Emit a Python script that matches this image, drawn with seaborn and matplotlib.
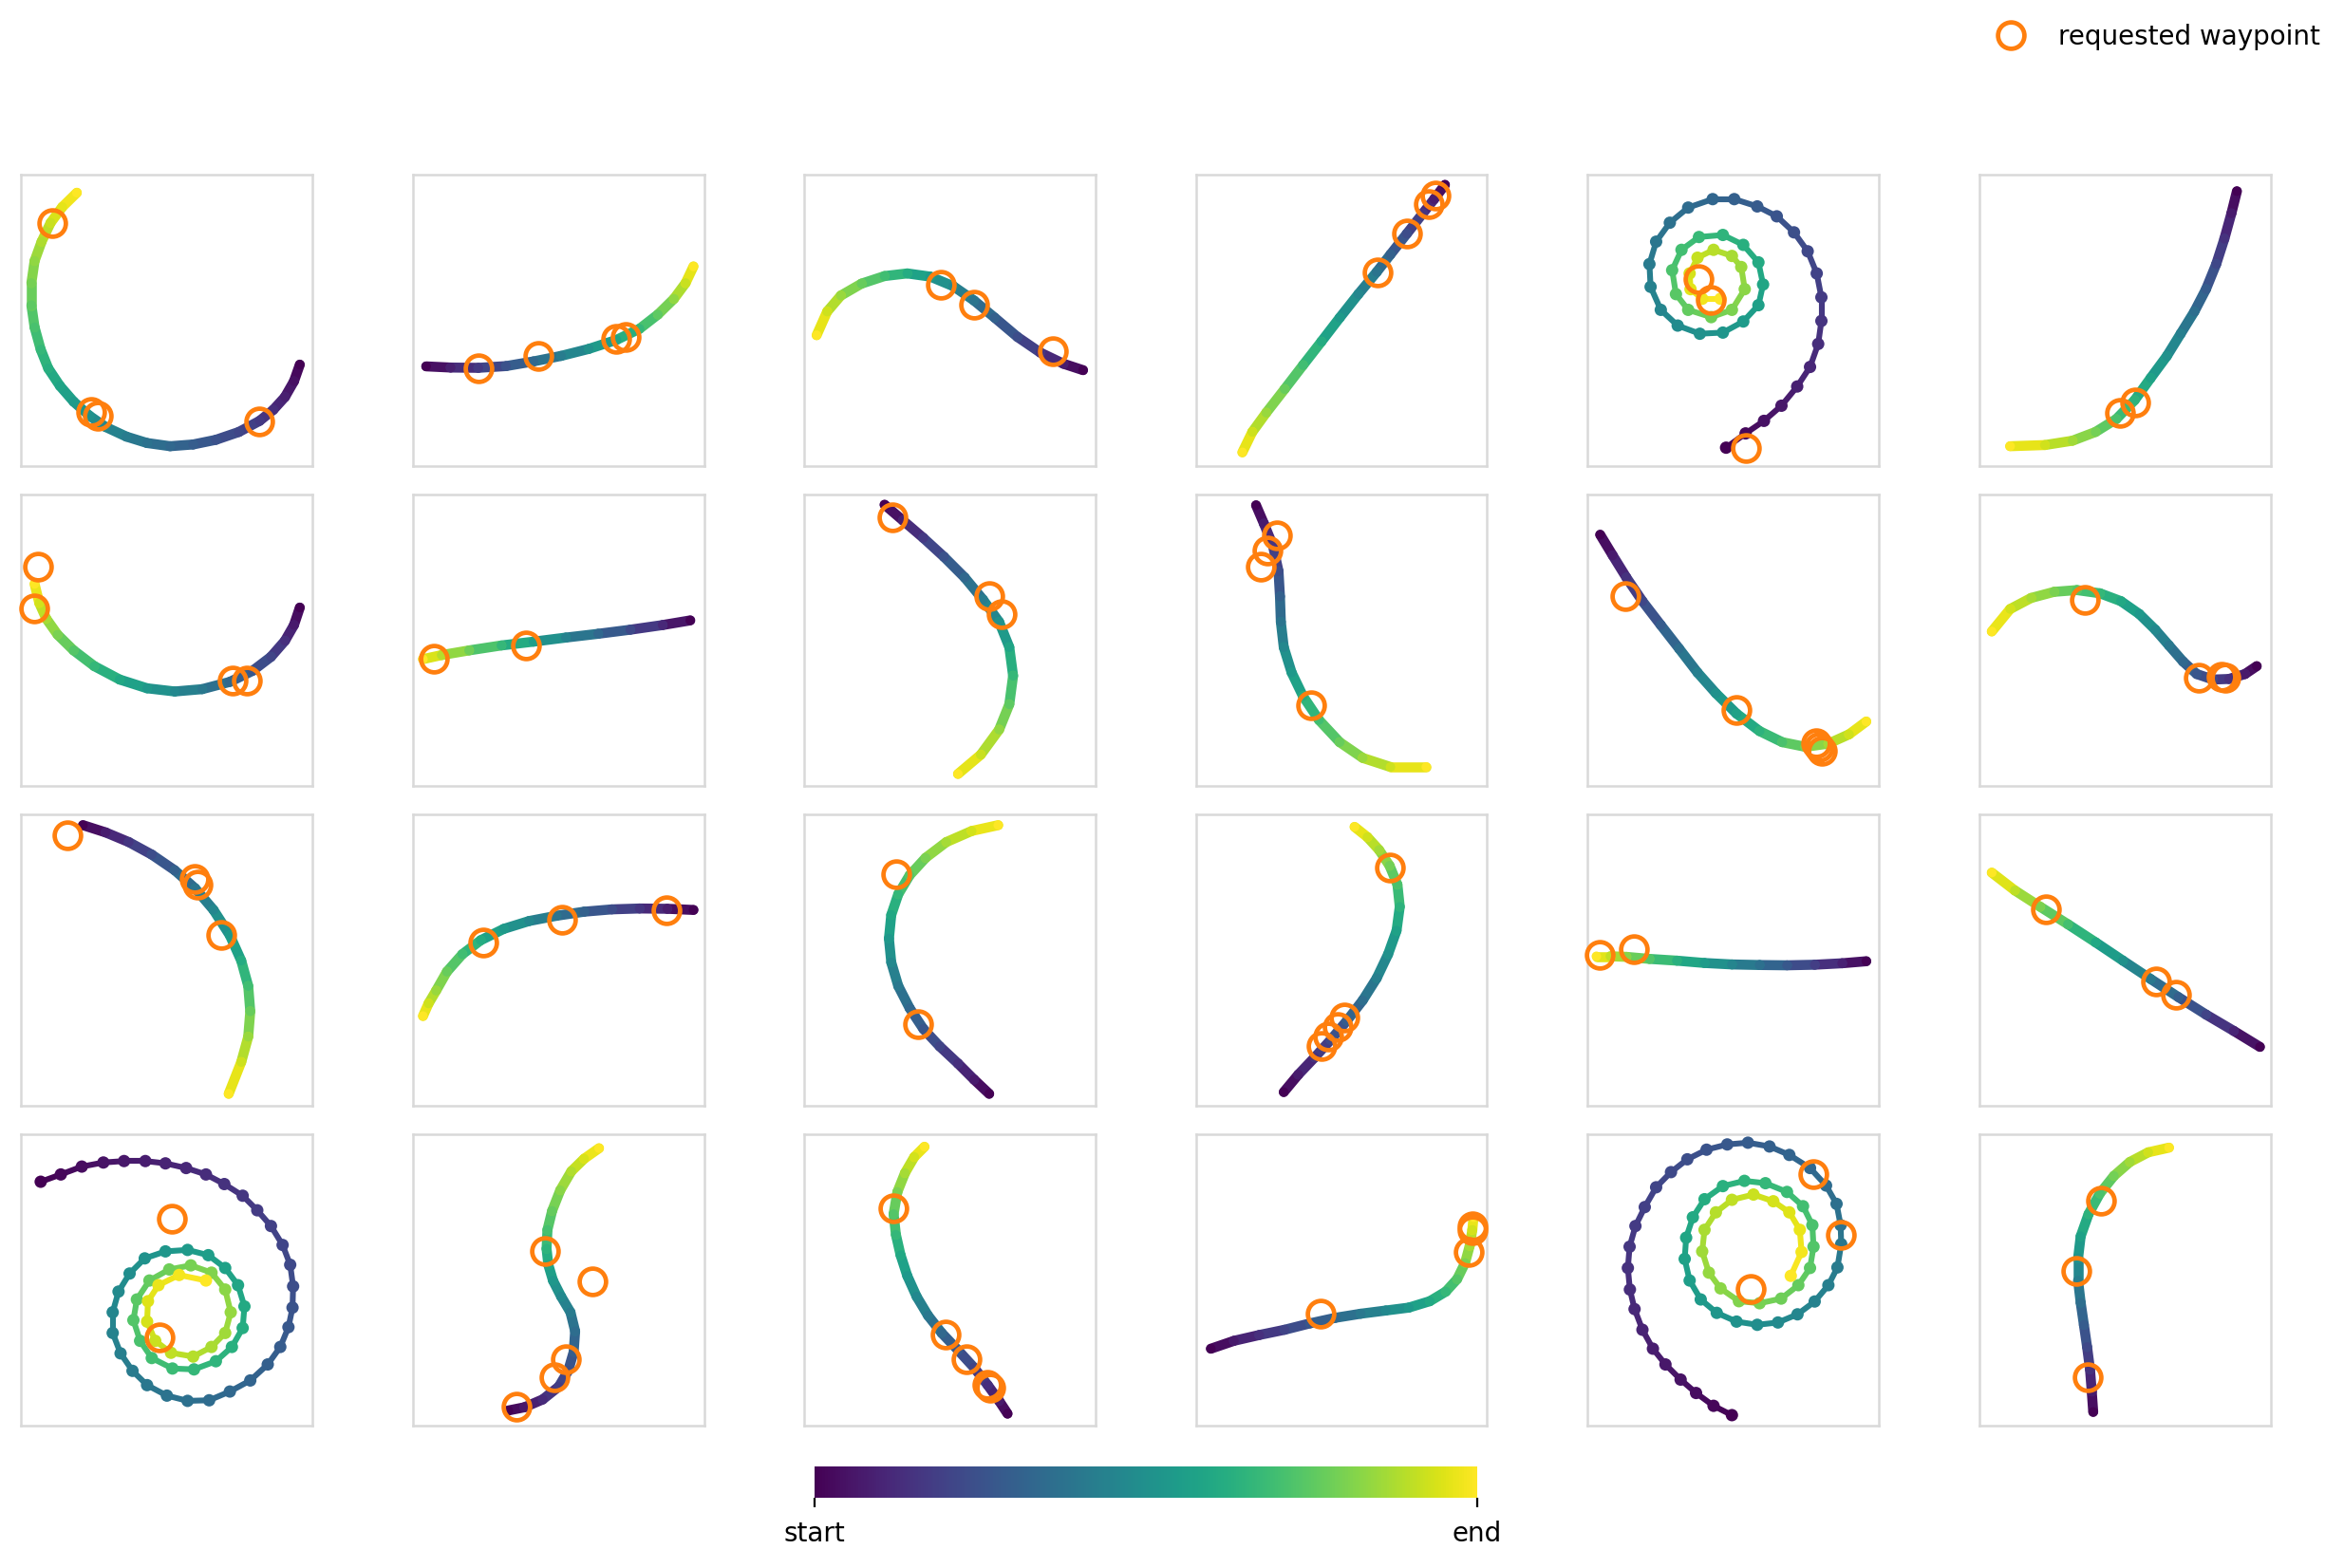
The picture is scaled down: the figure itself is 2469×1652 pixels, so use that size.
import numpy as np
import matplotlib
matplotlib.use("Agg")
import matplotlib.pyplot as plt
import seaborn as sns
from matplotlib.collections import LineCollection
from matplotlib.cm import ScalarMappable

# trajectories (panel units 0-100, start -> end)
path_0 = [(95.7, 34.8), (93.7, 29.1), (90.6, 23.7), (86.6, 19.3), (81.9, 15.5), (74.8, 11.7), (66.9, 9.0),
          (59.1, 7.4), (51.2, 6.8), (43.3, 7.9), (36.2, 10.1), (29.1, 13.4), (23.6, 17.2), (18.1, 22.1),
          (13.4, 27.5), (9.4, 33.5), (6.8, 40.0), (4.7, 47.6), (3.6, 55.2), (3.6, 62.8), (4.7, 70.4),
          (7.1, 77.0), (10.2, 83.5), (14.2, 88.9), (19.2, 93.8)]
path_1 = [(4.7, 34.2), (13.1, 33.8), (22.6, 33.7), (32.1, 34.3), (41.5, 35.9), (51.0, 37.8), (60.5, 40.2),
          (70.0, 43.3), (77.9, 47.1), (84.2, 52.0), (89.7, 57.4), (93.7, 62.8), (96.4, 68.5)]
path_2 = [(95.7, 32.9), (89.0, 35.1), (81.1, 38.9), (73.2, 44.3), (65.4, 50.9), (58.3, 56.8), (51.2, 61.7),
          (43.3, 65.0), (35.4, 66.1), (27.6, 65.2), (19.7, 62.6), (12.6, 58.5), (7.9, 53.0), (4.3, 44.9)]
path_3 = [(85.5, 96.5), (81.8, 91.6), (77.9, 86.7), (72.4, 79.7), (66.8, 72.6), (62.1, 66.6), (55.8, 59.0),
          (49.4, 50.9), (43.1, 42.7), (36.8, 34.6), (30.5, 26.4), (24.2, 18.3), (19.4, 11.7), (16.0, 4.7)]
path_4 = [(47.6, 6.3), (54.3, 11.2), (60.6, 15.5), (66.6, 20.7), (72.0, 27.3), (76.4, 34.0), (79.2, 41.9),
          (80.3, 49.8), (80.3, 57.9), (78.7, 66.1), (75.6, 73.7), (70.9, 80.2), (65.0, 85.7), (58.3, 89.1),
          (50.4, 91.6), (43.0, 91.6), (34.6, 88.7), (28.3, 83.5), (23.6, 77.0), (21.3, 69.3), (21.7, 61.5),
          (25.2, 53.6), (31.0, 48.2), (38.6, 45.4), (46.5, 45.8), (53.5, 49.6), (58.7, 55.2), (60.3, 62.3),
          (58.7, 69.9), (53.5, 75.9), (46.5, 79.3), (38.3, 78.6), (32.3, 74.2), (29.1, 67.2), (30.4, 59.0),
          (34.6, 53.6), (42.5, 51.1), (49.6, 53.6), (54.0, 60.7), (52.8, 68.3), (49.6, 72.1), (43.3, 74.2),
          (37.8, 71.5), (35.1, 66.1), (35.4, 60.7), (39.4, 57.4), (45.7, 57.4)]
path_5 = [(88.5, 94.3), (86.6, 86.7), (84.2, 78.0), (81.4, 69.3), (77.9, 60.7), (73.9, 53.0), (69.2, 45.4),
          (64.5, 37.8), (58.9, 30.2), (53.4, 22.6), (47.1, 16.1), (40.0, 11.7), (32.1, 8.7), (22.6, 7.2),
          (10.7, 6.8)]
path_6 = [(95.7, 61.2), (93.7, 55.2), (90.6, 49.8), (85.8, 44.3), (79.5, 39.5), (71.7, 35.7), (62.2, 33.2),
          (52.8, 32.4), (43.3, 33.5), (33.9, 36.5), (25.2, 41.1), (18.1, 46.5), (12.6, 51.9), (8.7, 57.4),
          (6.3, 62.8), (4.7, 69.3)]
path_7 = [(95.3, 56.8), (85.8, 55.2), (74.7, 53.6), (63.7, 52.2), (52.6, 50.9), (41.5, 49.5), (30.5, 48.2),
          (19.4, 46.5), (10.0, 44.9), (3.6, 43.5)]
path_8 = [(27.6, 96.5), (33.9, 91.1), (40.9, 85.1), (48.0, 78.6), (55.1, 71.5), (61.4, 63.9), (66.9, 56.3),
          (70.4, 47.6), (71.7, 37.8), (70.4, 28.0), (66.9, 19.3), (60.6, 10.7), (52.8, 4.1)]
path_9 = [(20.7, 96.3), (23.4, 90.0), (26.5, 82.4), (28.4, 73.7), (28.9, 65.0), (29.2, 56.3), (30.2, 47.6),
          (32.9, 38.9), (36.8, 30.8), (42.3, 22.6), (49.4, 15.0), (57.3, 9.6), (66.8, 6.5), (79.1, 6.5)]
path_10 = [(4.4, 86.2), (8.7, 79.1), (13.4, 71.5), (18.9, 63.4), (25.2, 55.2), (31.5, 47.1), (37.8, 38.9),
           (44.1, 31.8), (51.2, 24.8), (59.1, 18.8), (66.9, 15.0), (74.8, 13.4), (82.7, 14.5), (89.8, 17.7),
           (95.7, 22.1)]
path_11 = [(95.3, 41.1), (91.3, 38.4), (85.8, 36.7), (80.3, 36.5), (74.7, 38.4), (70.0, 42.7), (65.2, 48.2),
           (60.5, 53.6), (55.0, 59.0), (48.7, 63.4), (41.5, 66.1), (33.6, 67.2), (25.8, 66.6), (17.9, 64.5),
           (10.7, 60.7), (4.4, 53.0)]
path_12 = [(21.3, 96.3), (29.1, 93.8), (37.0, 90.5), (44.9, 86.2), (52.8, 80.8), (59.8, 74.6), (66.1, 67.2),
           (71.7, 58.5), (75.6, 49.8), (78.0, 41.1), (78.7, 32.4), (78.0, 23.7), (75.6, 15.0), (71.3, 4.1)]
path_13 = [(96.4, 67.2), (87.4, 67.6), (77.9, 67.7), (68.4, 67.4), (58.9, 66.6), (49.4, 65.2), (40.0, 63.4),
           (31.3, 60.7), (23.4, 56.8), (17.1, 52.0), (11.8, 46.0), (8.1, 39.5), (5.5, 35.1), (3.6, 30.8)]
path_14 = [(63.5, 4.1), (58.3, 9.0), (52.8, 14.5), (46.5, 20.4), (40.9, 26.4), (36.2, 33.5), (32.3, 41.1),
           (29.9, 49.2), (29.1, 57.4), (29.9, 65.5), (32.3, 72.6), (36.2, 79.1), (41.7, 85.1), (48.8, 90.5),
           (57.5, 94.3), (66.6, 96.3)]
path_15 = [(30.2, 4.7), (35.2, 10.7), (40.8, 16.6), (46.3, 22.6), (51.8, 29.1), (57.3, 36.2), (62.1, 43.8),
           (66.0, 52.0), (68.9, 60.1), (70.0, 68.3), (69.2, 75.9), (66.5, 82.4), (62.9, 87.8), (58.9, 92.2),
           (54.5, 95.7)]
path_16 = [(95.7, 49.6), (87.4, 48.9), (78.0, 48.4), (68.5, 48.2), (59.1, 48.3), (49.6, 48.5), (40.2, 49.0),
           (30.7, 49.8), (21.3, 50.4), (13.4, 51.1), (7.9, 51.3), (3.1, 51.3)]
path_17 = [(96.4, 20.2), (87.4, 25.7), (77.9, 31.3), (68.4, 37.3), (58.9, 43.5), (49.4, 49.8), (40.0, 56.1),
           (30.5, 62.3), (21.0, 68.3), (12.3, 73.9), (4.4, 80.0)]
path_18 = [(6.8, 83.7), (13.7, 86.2), (20.9, 88.9), (28.3, 90.3), (35.4, 90.8), (42.7, 90.8), (49.6, 90.0),
           (56.7, 88.4), (63.5, 86.2), (69.8, 82.9), (76.1, 78.9), (81.1, 73.9), (85.8, 68.5), (89.8, 62.0),
           (92.4, 55.2), (93.4, 47.8), (93.2, 40.5), (91.8, 33.8), (89.0, 27.0), (84.7, 21.0), (78.7, 15.5),
           (71.7, 11.7), (64.6, 8.7), (57.2, 8.5), (50.1, 10.3), (43.3, 13.9), (38.3, 18.8), (34.2, 24.8),
           (31.5, 31.8), (31.5, 38.9), (33.5, 46.0), (37.3, 52.2), (42.5, 57.4), (49.6, 59.8), (57.2, 60.3),
           (64.3, 58.5), (70.1, 54.1), (74.5, 48.2), (76.7, 40.9), (76.1, 33.5), (72.4, 27.0), (66.9, 22.1),
           (59.4, 19.3), (52.0, 19.6), (44.9, 23.2), (40.9, 29.1), (38.6, 36.2), (39.8, 43.3), (44.1, 49.8),
           (50.9, 53.6), (58.3, 55.0), (65.4, 52.5), (70.1, 46.7), (72.0, 38.9), (70.1, 31.8), (65.4, 27.0),
           (59.1, 23.7), (51.5, 25.0), (46.1, 29.1), (43.3, 35.7), (43.6, 42.7), (47.2, 48.2), (54.3, 51.7),
           (63.5, 49.8)]
path_19 = [(32.9, 5.2), (38.4, 6.3), (44.7, 9.0), (50.2, 13.4), (53.4, 18.8), (55.3, 25.3), (55.8, 32.4),
           (54.2, 38.9), (51.0, 44.3), (48.2, 49.8), (46.6, 55.2), (46.0, 60.7), (46.3, 67.2), (47.9, 73.7),
           (50.7, 80.8), (54.5, 87.3), (58.9, 91.6), (64.0, 95.2)]
path_20 = [(69.8, 4.1), (66.9, 8.5), (63.0, 13.9), (58.3, 19.9), (52.8, 25.9), (47.2, 31.8), (42.5, 37.8),
           (38.6, 44.3), (35.4, 51.4), (33.1, 58.5), (31.5, 65.5), (30.7, 72.6), (32.0, 80.2), (34.6, 86.7),
           (37.8, 92.2), (41.3, 95.7)]
path_21 = [(5.2, 26.4), (13.1, 29.1), (21.8, 31.1), (30.5, 32.9), (39.2, 35.1), (47.9, 37.0), (56.6, 38.4),
           (65.2, 39.5), (73.1, 40.5), (80.3, 42.7), (85.8, 46.0), (89.7, 50.3), (92.4, 55.8), (94.0, 61.7),
           (94.9, 67.2), (95.3, 71.5)]
path_22 = [(49.6, 3.6), (43.3, 6.8), (37.3, 11.2), (32.0, 15.8), (26.8, 21.0), (22.5, 26.4), (18.9, 32.9),
           (16.2, 40.0), (14.6, 46.7), (13.9, 54.1), (14.5, 61.4), (16.5, 68.5), (19.7, 75.0), (23.6, 81.8),
           (28.7, 87.0), (34.3, 91.4), (40.9, 94.7), (48.0, 96.5), (55.1, 97.1), (62.5, 95.8), (69.3, 92.9),
           (76.4, 88.4), (81.9, 82.4), (85.5, 76.1), (86.9, 68.8), (87.1, 62.3), (85.8, 54.3), (82.7, 48.2),
           (78.0, 42.6), (72.1, 38.2), (65.4, 35.4), (58.3, 34.6), (51.2, 35.7), (44.4, 38.7), (38.9, 43.3),
           (35.1, 49.8), (33.4, 57.2), (33.9, 64.5), (36.2, 71.5), (40.2, 77.7), (46.5, 82.2), (53.9, 84.0),
           (61.1, 83.2), (68.5, 80.2), (74.0, 75.3), (77.2, 68.8), (77.6, 61.4), (76.4, 54.1), (72.4, 48.2),
           (66.5, 43.6), (59.1, 42.0), (52.0, 42.7), (45.7, 47.1), (41.7, 52.5), (39.4, 59.8), (40.2, 67.2),
           (44.1, 73.2), (49.6, 77.5), (57.0, 79.3), (63.8, 77.0), (69.3, 73.2), (72.9, 67.2), (73.5, 59.6),
           (69.8, 51.4)]
path_23 = [(39.2, 4.7), (38.7, 11.7), (38.1, 19.3), (37.1, 27.0), (36.0, 34.6), (34.9, 42.2), (34.0, 49.8),
           (34.0, 57.4), (34.9, 65.0), (37.6, 72.6), (41.5, 79.7), (46.3, 85.7), (51.8, 90.5), (58.1, 93.8),
           (65.2, 95.4)]

# requested waypoints
wp_0 = [(10.6, 83.3), (24.1, 18.5), (26.3, 17.2), (81.9, 15.2)]
wp_1 = [(22.7, 33.7), (43.0, 37.8), (70.0, 43.6), (73.1, 44.3)]
wp_2 = [(46.8, 62.1), (58.3, 55.4), (85.4, 39.5)]
wp_3 = [(82.3, 92.7), (79.9, 90.0), (72.4, 79.7), (62.4, 66.6)]
wp_4 = [(38.1, 64.1), (42.5, 57.1), (54.3, 6.3)]
wp_5 = [(53.7, 21.7), (48.5, 18.3)]
wp_6 = [(6.0, 75.1), (4.7, 60.9), (72.8, 36.2), (77.5, 36.0)]
wp_7 = [(7.3, 43.5), (39.0, 48.2)]
wp_8 = [(30.4, 92.2), (63.5, 65.2), (67.9, 59.0)]
wp_9 = [(27.8, 85.9), (24.6, 80.8), (22.3, 75.3), (39.5, 27.7)]
wp_10 = [(13.1, 65.2), (51.2, 26.1), (78.4, 14.8), (79.5, 13.2), (80.4, 12.2)]
wp_11 = [(36.3, 63.7), (75.5, 37.0), (83.1, 37.3), (84.5, 37.0)]
wp_12 = [(16.1, 92.7), (59.5, 77.8), (60.6, 75.9), (68.8, 58.5)]
wp_13 = [(87.0, 67.0), (51.3, 63.9), (24.2, 56.0)]
wp_14 = [(31.5, 79.5), (39.1, 28.0)]
wp_15 = [(66.5, 81.6), (51.0, 30.2), (48.7, 27.0), (45.5, 23.7), (43.1, 20.4)]
wp_16 = [(4.3, 51.7), (16.1, 53.6)]
wp_17 = [(22.9, 67.5), (60.8, 42.7), (67.6, 38.0)]
wp_18 = [(51.7, 71.0), (47.7, 30.4)]
wp_19 = [(45.5, 59.8), (61.6, 49.5), (52.6, 22.9), (48.7, 16.6), (35.7, 6.5)]
wp_20 = [(30.7, 74.6), (48.5, 31.3), (55.6, 22.8), (63.0, 14.1), (63.8, 13.0)]
wp_21 = [(42.7, 38.4), (93.7, 59.6), (94.9, 67.2), (94.9, 68.5)]
wp_22 = [(77.6, 86.4), (86.9, 65.5), (55.9, 46.8)]
wp_23 = [(42.0, 77.3), (33.3, 53.0), (37.3, 16.6)]

paths = [path_0, path_1, path_2, path_3, path_4, path_5, path_6, path_7, path_8, path_9, path_10, path_11,
         path_12, path_13, path_14, path_15, path_16, path_17, path_18, path_19, path_20, path_21, path_22, path_23]
waypoints = [wp_0, wp_1, wp_2, wp_3, wp_4, wp_5, wp_6, wp_7, wp_8, wp_9, wp_10, wp_11,
             wp_12, wp_13, wp_14, wp_15, wp_16, wp_17, wp_18, wp_19, wp_20, wp_21, wp_22, wp_23]
spirals = {4, 18, 22}

cbar_labels = ['start', 'end']

sns.set_style('white')
plt.rcParams.update({'text.color': 'black', 'xtick.color': 'black', 'axes.labelcolor': 'black'})
W, H = 2469, 1652
fig = plt.figure(figsize=(W / 200, H / 200), dpi=200)
norm = plt.Normalize(0, 1)

wp_handle = None
for i, (path, wps) in enumerate(zip(paths, waypoints)):
    r, c = divmod(i, 6)
    left = (22 + c * 412.5) / W
    bottom = (H - 184 - 307 - r * 337) / H
    ax = fig.add_axes([left, bottom, 307 / W, 307 / H])

    pts = np.array(path)
    t = np.linspace(0, 1, len(pts))
    segs = np.stack([pts[:-1], pts[1:]], axis=1)
    lw = 2.2 if i in spirals else 3.8
    lc = LineCollection(segs, cmap='viridis', norm=norm, linewidths=lw, capstyle='round', joinstyle='round')
    lc.set_array((t[:-1] + t[1:]) / 2)
    ax.add_collection(lc)
    sns.scatterplot(x=pts[:, 0], y=pts[:, 1], hue=t, palette='viridis', hue_norm=(0, 1),
                    s=22 if i in spirals else 13, linewidth=0, legend=False, ax=ax, zorder=3)

    w = np.array(wps)
    h, = ax.plot(w[:, 0], w[:, 1], 'o', ms=10, mfc='none', mec='#ff7f0e', mew=1.7,
                 clip_on=False, zorder=4, label='requested waypoint')
    wp_handle = h

    ax.set_xlim(0, 100)
    ax.set_ylim(0, 100)
    ax.set_xticks([])
    ax.set_yticks([])
    ax.set_xlabel('')
    ax.set_ylabel('')
    for sp in ax.spines.values():
        sp.set_color('#d9d9d9')
        sp.set_linewidth(0.9)

cax = fig.add_axes([858 / W, (H - 1578) / H, 698 / W, 33 / H])
sm = ScalarMappable(norm=norm, cmap='viridis')
cb = fig.colorbar(sm, cax=cax, orientation='horizontal', ticks=[0, 1])
cb.ax.set_xticklabels(cbar_labels, fontsize=10)
cb.ax.tick_params(color='black', length=3.5, width=0.8, pad=5)
cb.outline.set_visible(False)

fig.legend(handles=[wp_handle], labels=['requested waypoint'], loc='upper right', frameon=False, fontsize=10)

fig.savefig('out.png', dpi=200)
